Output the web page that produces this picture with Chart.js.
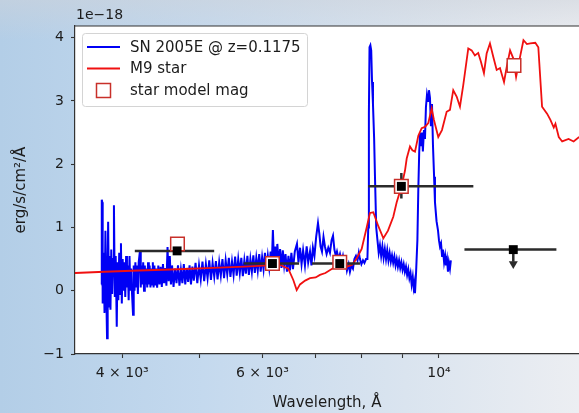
<!DOCTYPE html>
<html>
<head>
<meta charset="utf-8">
<script src="https://cdn.jsdelivr.net/npm/chart.js@4.4.0/dist/chart.umd.min.js"></script>
<style>
  html, body { margin: 0; padding: 0; }
  body {
    width: 579px; height: 413px; overflow: hidden;
    background:
      linear-gradient(to bottom, rgba(205,210,218,0.55) 0px, rgba(205,210,218,0) 40px),
      linear-gradient(to right, #b3cee7 0%, #c4d9ee 35%, #dae4ef 70%, #eceef2 100%);
  }
</style>
</head>
<body>
<canvas id="chart" width="579" height="413"></canvas>
<script>
// SN 2005E spectrum [wavelength A, flux 1e-18]
const snSpec = [
  [3765,0.10],[3770,1.44],[3775,1.40],[3780,-0.20],[3790,0.60],[3800,-0.35],[3810,0.95],[3820,-0.10],
  [3828,-0.75],[3835,0.40],[3840,1.09],[3850,-0.25],[3860,0.55],[3866,-0.30],[3875,0.65],[3885,-0.05],
  [3895,0.50],[3905,1.35],[3915,-0.10],[3925,0.55],[3937,-0.57],[3945,0.45],[3955,-0.15],[3965,0.60],
  [3975,-0.05],[3985,0.75],[3995,-0.20],[4005,0.50],[4015,0.00],[4025,0.45],[4035,-0.10],[4045,0.55],
  [4055,0.05],[4065,0.40],[4075,-0.15],[4085,0.55],[4095,0.00],[4105,0.35],[4115,-0.05],[4127,-0.38],
  [4135,0.40],[4145,0.00],[4155,0.45],[4165,0.05],[4175,0.40],[4185,-0.05],[4195,0.45],[4211,0.64],
  [4220,0.05],[4230,0.40],[4240,0.10],[4250,0.45],[4260,0.00],[4270,0.40],[4280,0.10],[4290,0.35],
  [4300,0.05],[4310,0.45],[4320,0.10],[4330,0.40],[4340,0.05],[4350,0.35],[4360,0.10],[4370,0.45],
  [4380,0.05],[4390,0.40],[4400,0.10],
  [4410,0.35],[4425,0.05],[4440,0.40],[4455,0.10],[4470,0.38],[4485,0.06],[4500,0.42],[4515,0.12],
  [4530,0.36],[4545,0.08],[4560,0.69],[4575,0.15],[4590,0.55],[4605,0.10],[4620,0.40],[4640,0.06],
  [4660,0.35],[4680,0.12],[4700,0.40],[4720,0.08],[4740,0.33],[4760,0.12],[4780,0.42],[4800,0.10],
  [4820,0.36],[4840,0.14],[4860,0.40],[4880,0.10],[4900,0.38],[4920,0.16],[4945,0.44],[4970,0.12],
  [4995,0.40],[5020,0.18],[5045,0.46],[5070,0.15],[5095,0.42],[5120,0.20],[5145,0.48],[5170,0.17],
  [5195,0.44],[5220,0.22],[5245,0.47],[5270,0.18],[5295,0.45],[5320,0.24],[5345,0.50],[5370,0.20],
  [5395,0.48],[5420,0.26],[5445,0.52],[5470,0.22],[5495,0.46],[5520,0.25],[5545,0.54],[5570,0.24],
  [5595,0.50],[5620,0.28],[5645,0.52],[5670,0.23],[5695,0.48],[5720,0.27],[5745,0.55],[5770,0.25],
  [5795,0.50],[5820,0.30],[5845,0.56],[5870,0.28],[5895,0.52],[5920,0.32],[5945,0.58],[5970,0.30],
  [5995,0.53],[6020,0.34],[6045,0.60],[6070,0.32],[6095,0.55],[6120,0.36],[6145,0.62],[6165,0.40],
  [6185,0.96],[6205,0.45],[6225,0.70],[6245,0.38],[6265,0.74],[6290,0.42],[6315,0.66],[6340,0.36],
  [6365,0.64],[6390,0.40],[6415,0.58],[6442,0.30],[6470,0.55],[6498,0.32],[6525,0.60],[6555,0.34],
  [6590,0.62],[6631,0.74],[6660,0.45],[6690,0.68],[6720,0.42],[6750,0.64],[6786,0.40],[6820,0.70],
  [6850,0.45],[6886,0.62],[6915,0.40],[6944,0.68],[6975,0.55],[7010,0.85],[7047,1.07],[7075,0.90],
  [7100,0.70],[7129,0.62],[7160,0.85],[7190,0.70],[7225,0.58],[7260,0.68],[7295,0.60],[7330,0.80],
  [7360,0.87],[7390,0.65],[7420,0.55],[7445,0.62],[7480,0.50],[7510,0.58],[7545,0.45],[7575,0.55],
  [7610,0.40],[7640,0.45],[7663,0.32],[7700,0.42],[7729,0.30],[7760,0.40],[7797,0.35],[7830,0.50],
  [7865,0.55],[7900,0.48],[7930,0.60],[7957,0.50],[7990,0.42],[8027,0.48],[8060,0.44],[8098,0.50],
  [8130,0.50],[8150,1.00],[8165,2.80],[8180,3.85],[8200,3.88],[8220,3.80],[8240,3.30],[8262,2.95],
  [8290,2.40],[8312,1.75],[8340,1.00],[8370,0.80],[8400,0.60],[8430,0.72],[8460,0.55],[8490,0.70],
  [8520,0.52],[8550,0.66],[8580,0.50],[8610,0.64],[8640,0.48],[8670,0.60],[8700,0.46],[8730,0.56],
  [8760,0.44],[8790,0.54],[8820,0.40],[8850,0.50],[8880,0.38],[8910,0.48],[8940,0.36],[8970,0.45],
  [9000,0.33],[9030,0.42],[9060,0.30],[9090,0.38],[9120,0.25],[9150,0.34],[9180,0.20],[9210,0.28],
  [9240,0.10],[9270,0.22],[9295,0.05],[9315,0.12],[9330,-0.04],[9360,0.30],[9395,0.80],[9420,1.60],
  [9445,2.20],[9470,2.50],[9495,2.30],[9520,2.50],[9545,2.20],[9575,2.54],[9603,2.40],[9630,2.90],
  [9660,3.10],[9691,3.00],[9715,3.17],[9743,3.05],[9770,2.60],[9800,2.95],[9828,2.30],[9860,1.80],
  [9885,1.40],[9930,1.10],[9971,0.96],[10000,0.80],[10029,0.70],[10060,0.75],[10090,0.55],[10116,0.65],
  [10150,0.45],[10180,0.55],[10204,0.40],[10235,0.50],[10264,0.30],[10290,0.45],[10323,0.35],[10350,0.48]
];

// M9 star template
const starSpec = [
  [3487,0.28],[3800,0.30],[4200,0.32],[4700,0.34],[5200,0.36],[5700,0.38],[6100,0.40],[6313,0.41],
  [6466,0.35],[6561,0.17],[6626,0.01],[6690,0.10],[6790,0.16],[6886,0.20],[7000,0.21],[7087,0.25],
  [7200,0.28],[7366,0.36],[7500,0.40],[7656,0.38],[7780,0.41],[7881,0.51],[7996,0.66],[8113,1.00],
  [8190,1.23],[8270,1.24],[8391,1.02],[8514,0.83],[8629,0.95],[8762,1.17],[8849,1.40],[8978,1.66],
  [9064,1.90],[9109,2.09],[9196,2.28],[9260,2.22],[9330,2.20],[9420,2.45],[9512,2.57],[9603,2.59],
  [9695,2.65],[9791,2.88],[9856,2.70],[9980,2.43],[10087,2.54],[10225,2.83],[10323,2.86],[10422,3.17],
  [10525,3.07],[10626,2.91],[10728,3.25],[10885,3.83],[10992,3.80],[11095,3.72],[11203,3.76],[11291,3.62],
  [11390,3.44],[11479,3.75],[11590,3.91],[11701,3.70],[11817,3.49],[11931,3.52],[12071,3.30],[12166,3.54],
  [12284,3.80],[12402,3.67],[12500,3.38],[12646,3.70],[12769,3.96],[12897,3.90],[13023,3.91],[13214,3.92],
  [13330,3.85],[13475,2.91],[13672,2.80],[13805,2.70],[13939,2.58],[14007,2.64],[14142,2.43],[14283,2.36],
  [14549,2.40],[14764,2.36],[15002,2.43]
];

// photometry
const photWave = [4688, 6177, 7505, 8969, 12399];
const photFlux = [0.63, 0.43, 0.43, 1.65, 0.65];
const photLo   = [4148, 5684, 6927, 8150, 10765];
const photHi   = [5219, 6672, 7957, 11046, 14046];
const photYLo  = [null, null, null, 1.46, null];
const photYHi  = [null, null, null, 1.86, null];
const isLimit  = [false, false, false, false, true];
const limitTo  = 0.46;   // end of the upper-limit arrow shaft
const limitTip = 0.425;  // arrow head

// star model mags
const modelWave = [4693, 6177, 7505, 8969, 12424];
const modelFlux = [0.74, 0.43, 0.45, 1.65, 3.56];

const xTickVals = [4000, 5000, 6000, 7000, 8000, 9000, 10000];
const xTickText = ['4 \u00d7 10\u00b3', '', '6 \u00d7 10\u00b3', '', '', '', '10\u2074'];
const yTickVals = [-1, 0, 1, 2, 3, 4];

const legendLabels = ['SN 2005E @ z=0.1175', 'M9 star', 'star model mag'];

const BLUE = '#0000f5';
const RED = '#f01010';
const SQ_RED = '#c8302a';
const ERR = '#2b2b2b';
const TEXT = '#1c1c1c';
const FONT = '"DejaVu Sans", sans-serif';

const toXY = arr => arr.map(p => ({ x: p[0], y: p[1] }));

const errPts = [];
const limitHeads = [];
photWave.forEach((w, i) => {
  errPts.push({ x: photLo[i], y: photFlux[i] }, { x: photHi[i], y: photFlux[i] }, { x: photHi[i], y: null });
  if (photYLo[i] !== null) {
    errPts.push({ x: w, y: photYLo[i] }, { x: w, y: photYHi[i] }, { x: w, y: null });
  }
  if (isLimit[i]) {
    errPts.push({ x: w, y: photFlux[i] }, { x: w, y: limitTo }, { x: w, y: null });
    limitHeads.push({ x: w, y: limitTip });
  }
});

// white plot face, top spine, texts, legend
const decor = {
  id: 'decor',
  beforeDraw(chart) {
    const { ctx, chartArea: a } = chart;
    ctx.save();
    ctx.fillStyle = '#ffffff';
    ctx.fillRect(a.left, a.top, a.right - a.left, a.bottom - a.top);
    ctx.restore();
  },
  afterDraw(chart) {
    const { ctx, chartArea: a } = chart;
    ctx.save();
    ctx.strokeStyle = '#333';
    ctx.lineWidth = 1.2;
    ctx.beginPath();
    ctx.moveTo(a.left, a.top);
    ctx.lineTo(a.right, a.top);
    ctx.stroke();

    ctx.fillStyle = TEXT;
    ctx.textBaseline = 'middle';
    ctx.font = '14px ' + FONT;
    ctx.fillText('1e\u221218', a.left + 1, 15);

    ctx.font = '15px ' + FONT;
    ctx.textAlign = 'center';
    ctx.fillText('Wavelength, \u00c5', (a.left + a.right) / 2, 403);

    ctx.translate(21, (a.top + a.bottom) / 2);
    ctx.rotate(-Math.PI / 2);
    ctx.fillText('erg/s/cm\u00b2/\u00c5', 0, 0);
    ctx.restore();

    // legend
    ctx.save();
    const bx = 82.5, by = 33.5, bw = 225, bh = 73, r = 3;
    ctx.beginPath();
    ctx.moveTo(bx + r, by);
    ctx.arcTo(bx + bw, by, bx + bw, by + bh, r);
    ctx.arcTo(bx + bw, by + bh, bx, by + bh, r);
    ctx.arcTo(bx, by + bh, bx, by, r);
    ctx.arcTo(bx, by, bx + bw, by, r);
    ctx.closePath();
    ctx.fillStyle = 'rgba(255,255,255,0.85)';
    ctx.fill();
    ctx.strokeStyle = '#d4d4d4';
    ctx.lineWidth = 1;
    ctx.stroke();

    const rows = [47, 68.5, 90.5];
    ctx.lineWidth = 2;
    ctx.strokeStyle = BLUE;
    ctx.beginPath(); ctx.moveTo(87, rows[0]); ctx.lineTo(120, rows[0]); ctx.stroke();
    ctx.strokeStyle = RED;
    ctx.beginPath(); ctx.moveTo(87, rows[1]); ctx.lineTo(120, rows[1]); ctx.stroke();
    ctx.strokeStyle = SQ_RED;
    ctx.lineWidth = 1.5;
    ctx.strokeRect(96.5, rows[2] - 7, 14, 14);

    ctx.fillStyle = TEXT;
    ctx.font = '15px ' + FONT;
    ctx.textBaseline = 'middle';
    legendLabels.forEach((t, i) => ctx.fillText(t, 130, rows[i] + 1));
    ctx.restore();
  }
};

new Chart(document.getElementById('chart'), {
  type: 'scatter',
  data: {
    datasets: [
      {
        label: legendLabels[0],
        data: toXY(snSpec),
        showLine: true,
        borderColor: BLUE,
        borderWidth: 2,
        pointRadius: 0,
        order: 6
      },
      {
        label: legendLabels[1],
        data: toXY(starSpec),
        showLine: true,
        borderColor: RED,
        borderWidth: 1.8,
        pointRadius: 0,
        order: 5
      },
      {
        label: 'errors',
        data: errPts,
        showLine: true,
        spanGaps: false,
        borderColor: ERR,
        borderWidth: 2.5,
        pointRadius: 0,
        order: 4
      },
      {
        label: legendLabels[2],
        data: modelWave.map((w, i) => ({ x: w, y: modelFlux[i] })),
        pointStyle: 'rect',
        pointRadius: 9.6,
        backgroundColor: '#ffffff',
        borderColor: SQ_RED,
        borderWidth: 1.5,
        order: 3
      },
      {
        label: 'phot',
        data: photWave.map((w, i) => ({ x: w, y: photFlux[i] })),
        pointStyle: 'rect',
        pointRadius: 6.3,
        backgroundColor: '#000000',
        borderColor: '#000000',
        borderWidth: 0,
        order: 2
      },
      {
        label: 'limit',
        data: limitHeads,
        pointStyle: 'triangle',
        rotation: 180,
        pointRadius: 5.2,
        backgroundColor: ERR,
        borderColor: ERR,
        borderWidth: 0,
        order: 1
      }
    ]
  },
  options: {
    responsive: false,
    animation: false,
    events: [],
    layout: { autoPadding: false, padding: { top: 26, right: 0, left: 0, bottom: 0 } },
    plugins: { legend: { display: false }, tooltip: { enabled: false } },
    scales: {
      x: {
        type: 'logarithmic',
        min: 3489,
        max: 14995,
        afterFit: s => { s.height = 59; s.paddingLeft = 0; s.paddingRight = 0; },
        afterBuildTicks: s => { s.ticks = xTickVals.map(v => ({ value: v })); },
        grid: { drawOnChartArea: false, drawTicks: true, tickLength: 4, color: '#333', tickWidth: 1.1 },
        border: { display: true, color: '#333', width: 1.2 },
        ticks: {
          autoSkip: false,
          maxRotation: 0,
          padding: 7,
          color: TEXT,
          font: { family: FONT, size: 14 },
          callback: (v, i) => xTickText[i]
        }
      },
      y: {
        min: -1,
        max: 4.185,
        afterFit: s => { s.width = 75; s.paddingTop = 0; s.paddingBottom = 0; },
        afterBuildTicks: s => { s.ticks = yTickVals.map(v => ({ value: v })); },
        grid: { drawOnChartArea: false, drawTicks: true, tickLength: 4, color: '#333', tickWidth: 1.1 },
        border: { display: true, color: '#333', width: 1.2 },
        ticks: {
          padding: 7,
          color: TEXT,
          font: { family: FONT, size: 14 },
          callback: v => (v < 0 ? '\u2212' + Math.abs(v) : String(v))
        }
      }
    }
  },
  plugins: [decor]
});
</script>
</body>
</html>
